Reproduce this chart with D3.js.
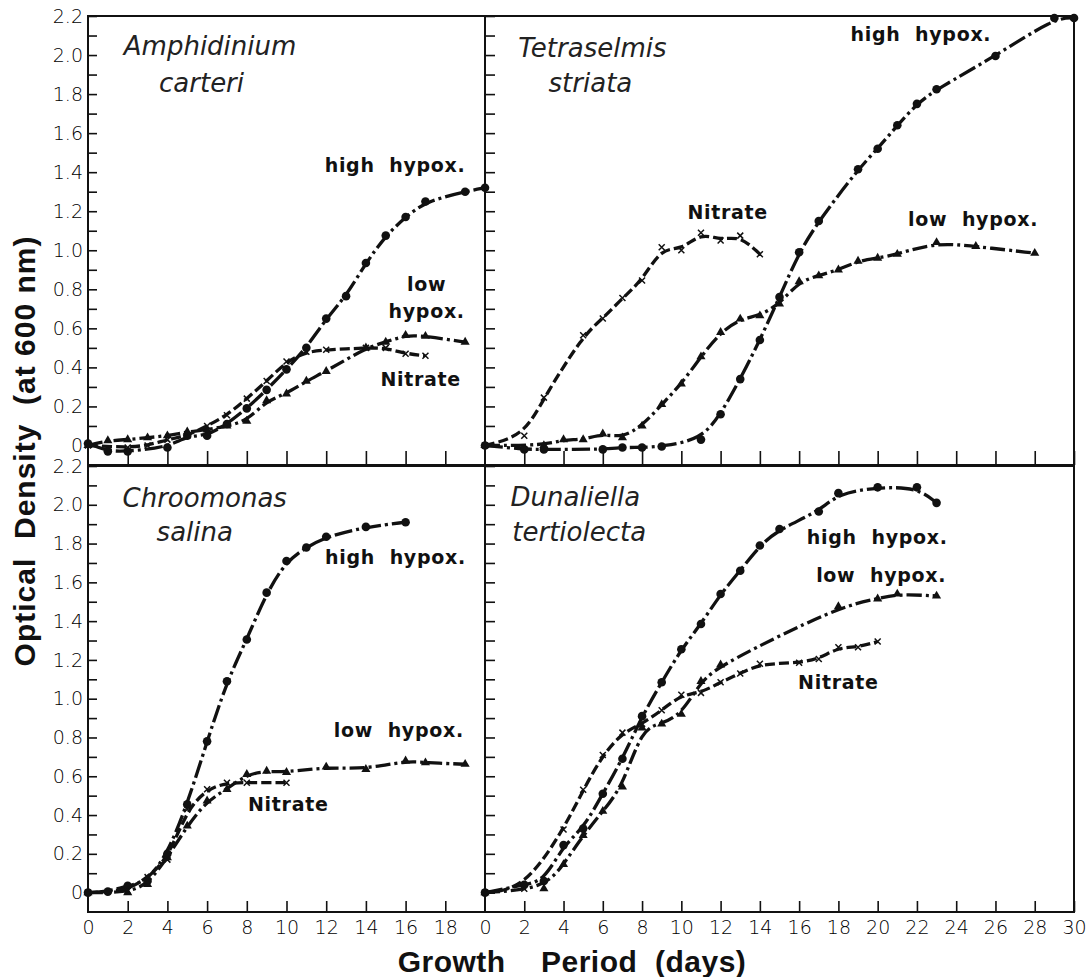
<!DOCTYPE html>
<html lang="en">
<meta charset="utf-8">
<head>
    <script src="https://d3js.org/d3.v7.min.js"></script>
    <style>
        body { margin: 0; background: #fff; }
    </style>
</head>
<body>
<script>
    // optical density readings, [day, OD at 600 nm]
    // Amphidinium carteri
    var amphHigh = [[0,0.01],[1,-0.03],[2,-0.03],[4,-0.01],[5,0.05],[6,0.05],[7,0.11],[8,0.19],[9,0.285],[10,0.39],[11,0.50],[12,0.65],[13,0.765],[14,0.935],[15,1.075],[16,1.17],[17,1.25],[19,1.30],[20,1.32]];
    var amphLow = [[0,0.0],[1,0.025],[2,0.03],[3,0.04],[4,0.05],[5,0.07],[6,0.08],[7,0.10],[8,0.125],[9,0.23],[10,0.265],[11,0.33],[12,0.38],[14,0.50],[15,0.53],[16,0.565],[17,0.56],[19,0.53]];
    var amphNit = [[0,0.0],[2,-0.01],[3,0.0],[4,0.03],[5,0.05],[6,0.10],[7,0.155],[8,0.24],[9,0.33],[10,0.43],[11,0.48],[12,0.49],[14,0.5],[15,0.5],[16,0.47],[17,0.46]];
    // Tetraselmis striata
    var tetraHigh = [[0,0],[2,-0.02],[3,-0.02],[6,-0.02],[7,-0.01],[8,-0.01],[9,-0.005],[11,0.03],[12,0.16],[13,0.34],[14,0.54],[15,0.76],[16,0.99],[17,1.15],[19,1.415],[20,1.52],[21,1.64],[22,1.75],[23,1.825],[26,1.995],[29,2.19],[30,2.19]];
    var tetraLow = [[0,0],[3,0.0],[4,0.03],[5,0.03],[6,0.06],[7,0.04],[8,0.10],[9,0.21],[10,0.315],[11,0.455],[12,0.58],[13,0.648],[14,0.665],[15,0.725],[16,0.84],[17,0.87],[18,0.90],[19,0.945],[20,0.96],[21,0.98],[23,1.04],[25,1.02],[28,0.985]];
    var tetraNit = [[0,0],[2,0.05],[3,0.245],[5,0.565],[6,0.65],[7,0.755],[8,0.845],[9,1.015],[10,1.0],[11,1.09],[12,1.05],[13,1.075],[14,0.98]];
    // Chroomonas salina
    var chroHigh = [[0,0],[1,0.005],[2,0.035],[3,0.06],[4,0.2],[5,0.455],[6,0.78],[7,1.09],[8,1.305],[9,1.547],[10,1.71],[11,1.78],[12,1.835],[14,1.886],[16,1.91]];
    var chroLow = [[0,0],[2,0.0],[3,0.043],[4,0.18],[5,0.344],[6,0.473],[7,0.533],[8,0.61],[9,0.627],[10,0.62],[12,0.648],[14,0.636],[16,0.68],[17,0.67],[19,0.662]];
    var chroNit = [[0,0],[2,0.01],[3,0.08],[4,0.17],[5,0.43],[6,0.533],[7,0.567],[8,0.567],[10,0.567]];
    // Dunaliella tertiolecta
    var dunaHigh = [[0,0],[2,0.04],[3,0.06],[4,0.245],[5,0.33],[6,0.51],[7,0.69],[8,0.91],[9,1.085],[10,1.255],[11,1.385],[12,1.54],[13,1.66],[14,1.79],[15,1.875],[17,1.965],[18,2.06],[20,2.09],[22,2.09],[23,2.01]];
    var dunaLow = [[0,0],[3,0.02],[4,0.145],[5,0.295],[6,0.42],[7,0.545],[8,0.85],[9,0.87],[10,0.92],[11,1.09],[12,1.175],[18,1.475],[20,1.515],[21,1.54],[23,1.53]];
    var dunaNit = [[0,0],[2,0.02],[4,0.325],[5,0.53],[6,0.71],[7,0.825],[8,0.87],[9,0.94],[10,1.02],[11,1.03],[12,1.085],[13,1.13],[14,1.18],[16,1.185],[17,1.205],[18,1.265],[19,1.265],[20,1.295]];

    // tick labels
    var odTicks = [0,0.2,0.4,0.6,0.8,1.0,1.2,1.4,1.6,1.8,2.0,2.2];
    var leftDayTicks = [0,2,4,6,8,10,12,14,16,18];
    var rightDayTicks = [0,2,4,6,8,10,12,14,16,18,20,22,24,26,28,30];

    // species names and curve labels, anchored at [day, OD]
    var amphName = ["Amphidinium", "carteri"];
    var tetraName = ["Tetraselmis", "striata"];
    var chroName = ["Chroomonas", "salina"];
    var dunaName = ["Dunaliella", "tertiolecta"];
    var amphLabels = [["high  hypox.",15.47,1.434],["low",17.06,0.826],["hypox.",17.06,0.69],["Nitrate",16.76,0.339]];
    var tetraLabels = [["high  hypox.",22.2,2.106],["Nitrate",12.36,1.194],["low  hypox.",24.86,1.16]];
    var chroLabels = [["high  hypox.",15.49,1.73],["low  hypox.",15.66,0.837],["Nitrate",10.09,0.455]];
    var dunaLabels = [["high  hypox.",19.98,1.834],["low  hypox.",20.18,1.637],["Nitrate",18.0,1.086]];

    var svg = d3.select("body")
        .append("svg")
        .attr("width", 1088)
        .attr("height", 977);

    // scales: left column 0-20 days, right column 0-30 days
    var xLeft = d3.scaleLinear().domain([0, 20]).range([88, 485]);
    var xRight = d3.scaleLinear().domain([0, 30]).range([485, 1074]);
    var yTop = d3.scaleLinear().domain([-0.1, 2.2]).range([465, 16]);
    var yBottom = d3.scaleLinear().domain([-0.1, 2.2]).range([912, 466]);

    var minorOd = d3.range(0, 23).map(function(i) { return i / 10; });

    var panels = [
        {x: xLeft, y: yTop, name: amphName, nameAt: [[6.15,2.05],[5.72,1.86]], series: [amphHigh, amphLow, amphNit], labels: amphLabels, bottom: false, left: true},
        {x: xRight, y: yTop, name: tetraName, nameAt: [[5.47,2.04],[5.37,1.86]], series: [tetraHigh, tetraLow, tetraNit], labels: tetraLabels, bottom: false, left: false},
        {x: xLeft, y: yBottom, name: chroName, nameAt: [[5.88,2.037],[5.38,1.86]], series: [chroHigh, chroLow, chroNit], labels: chroLabels, bottom: true, left: true},
        {x: xRight, y: yBottom, name: dunaName, nameAt: [[4.6,2.04],[4.8,1.86]], series: [dunaHigh, dunaLow, dunaNit], labels: dunaLabels, bottom: true, left: false}
    ];

    // high hypox. / low hypox. / Nitrate line dashes
    var dashes = ["18,4,3,4", "15,4,3,4", "10,4"];

    function fmt(v) {
        var k = Math.round(v * 10);
        if (k % 2 != 0) return "";
        if (k == 0) return "0";
        return d3.format(".1f")(v);
    }

    panels.forEach(function(p) {
        var x = p.x, y = p.y;
        var x0 = x.range()[0], x1 = x.range()[1];
        var yb = y.range()[0], yt = y.range()[1];
        var g = svg.append("g");

        // frame
        g.append("rect")
            .attr("x", x0).attr("y", yt)
            .attr("width", x1 - x0).attr("height", yb - yt)
            .style("fill", "none")
            .style("stroke", "#111")
            .style("stroke-width", 2);

        // y ticks, pointing into the panel
        var yAxis = g.append("g")
            .attr("transform", "translate(" + x0 + ",0)")
            .call(d3.axisRight(y).tickValues(minorOd).tickSize(p.left ? 9 : 10).tickFormat(""));
        yAxis.select(".domain").remove();

        if (p.left) {
            var yLab = g.append("g")
                .attr("transform", "translate(" + x0 + ",0)")
                .call(d3.axisLeft(y).tickValues(odTicks).tickSize(0).tickPadding(5).tickFormat(fmt));
            yLab.select(".domain").remove();
            yLab.selectAll("text")
                .style("font-family", "'DejaVu Sans', sans-serif")
                .style("font-weight", 200)
                .style("font-size", "19px")
                .style("fill", "#000");
        }

        // x ticks along the bottom edge, pointing up
        var dayTicks = p.left ? leftDayTicks : rightDayTicks;
        var xAxis = g.append("g")
            .attr("transform", "translate(0," + yb + ")")
            .call(d3.axisBottom(x)
                .tickValues(dayTicks.filter(function(d) { return d > 0; }))
                .tickSize(p.bottom ? -11 : -14)
                .tickFormat(""));
        xAxis.select(".domain").remove();
        xAxis.selectAll("line").style("stroke", "#111").style("stroke-width", 1.6);
        yAxis.selectAll("line").style("stroke", "#111").style("stroke-width", 1.6);

        if (p.bottom) {
            var xLab = g.append("g")
                .attr("transform", "translate(0," + yb + ")")
                .call(d3.axisBottom(x).tickValues(dayTicks).tickSize(0).tickPadding(9));
            xLab.select(".domain").remove();
            xLab.selectAll("text")
                .style("font-family", "'DejaVu Sans', sans-serif")
                .style("font-weight", 200)
                .style("font-size", "19px")
                .style("fill", "#000");
        }

        // curves
        var line = d3.line()
            .curve(d3.curveBasis)
            .x(function(d) { return x(d[0]); })
            .y(function(d) { return y(d[1]); });

        p.series.forEach(function(s, i) {
            g.append("path")
                .datum(s)
                .attr("d", line)
                .style("fill", "none")
                .style("stroke", "#111")
                .style("stroke-width", 3.3)
                .style("stroke-dasharray", dashes[i]);
        });

        // markers: circle = high hypox., triangle = low hypox., x = Nitrate
        g.selectAll(".hi")
            .data(p.series[0])
            .enter()
            .append("circle")
            .attr("cx", function(d) { return x(d[0]); })
            .attr("cy", function(d) { return y(d[1]); })
            .attr("r", 4.3)
            .style("fill", "#111");

        g.selectAll(".lo")
            .data(p.series[1])
            .enter()
            .append("path")
            .attr("d", d3.symbol().type(d3.symbolTriangle).size(36))
            .attr("transform", function(d) { return "translate(" + x(d[0]) + "," + y(d[1]) + ")"; })
            .style("fill", "#111");

        g.selectAll(".ni")
            .data(p.series[2])
            .enter()
            .append("path")
            .attr("d", "M-3,-3L3,3M-3,3L3,-3")
            .attr("transform", function(d) { return "translate(" + x(d[0]) + "," + y(d[1]) + ")"; })
            .style("stroke", "#111")
            .style("stroke-width", 1.5);

        // species name
        g.selectAll(".sp")
            .data(p.name)
            .enter()
            .append("text")
            .attr("x", function(d, i) { return x(p.nameAt[i][0]); })
            .attr("y", function(d, i) { return y(p.nameAt[i][1]); })
            .attr("dy", "0.36em")
            .attr("text-anchor", "middle")
            .style("font-family", "'DejaVu Sans', sans-serif")
            .style("font-weight", 200)
            .style("font-style", "italic")
            .style("font-size", "26px")
            .style("fill", "#222")
            .text(function(d) { return d; });

        // curve labels
        g.selectAll(".lab")
            .data(p.labels)
            .enter()
            .append("text")
            .attr("x", function(d) { return x(d[1]); })
            .attr("y", function(d) { return y(d[2]); })
            .attr("dy", "0.36em")
            .attr("text-anchor", "middle")
            .style("white-space", "pre")
            .style("font-family", "'DejaVu Sans', sans-serif")
            .style("font-weight", "bold")
            .style("font-size", "19px")
            .style("letter-spacing", "0.7px")
            .style("fill", "#111")
            .text(function(d) { return d[0]; });
    });

    // axis titles
    svg.append("text")
        .attr("transform", "translate(35,451) rotate(-90)")
        .attr("text-anchor", "middle")
        .style("white-space", "pre")
        .style("font-family", "'Liberation Sans', Arial, sans-serif")
        .style("font-weight", "bold")
        .style("font-size", "30px")
        .style("letter-spacing", "1px")
        .style("fill", "#111")
        .text("Optical  Density  (at 600 nm)");

    svg.append("text")
        .attr("x", 572)
        .attr("y", 972)
        .attr("text-anchor", "middle")
        .style("white-space", "pre")
        .style("font-family", "'Liberation Sans', Arial, sans-serif")
        .style("font-weight", "bold")
        .style("font-size", "30px")
        .style("letter-spacing", "0.5px")
        .style("fill", "#111")
        .text("Growth    Period  (days)");
</script>
</body>
</html>
